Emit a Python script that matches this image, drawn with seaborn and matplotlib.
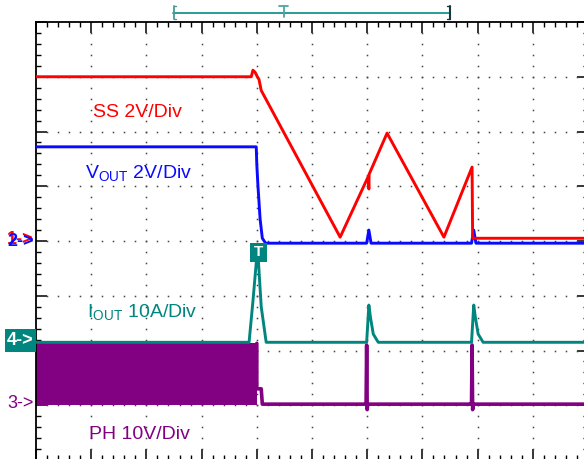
import numpy as np
import matplotlib
matplotlib.use("Agg")
import matplotlib.pyplot as plt
import matplotlib.transforms as mtransforms
from matplotlib.patches import Rectangle
from matplotlib.lines import Line2D
import seaborn as sns

# ---- data: time in divisions (0..10), amplitude in divisions (0..8) ----
ss_t = [0.0, 3.90, 3.93, 3.97, 4.01, 4.04, 4.08, 5.51, 6.02, 6.03, 6.035, 6.36, 7.39, 7.90, 7.91, 7.93, 10.0]
ss_v = [7.00, 7.00, 7.12, 7.08, 7.00, 6.95, 6.75, 4.07, 5.18, 4.95, 5.22, 5.97, 4.07, 5.35, 4.05, 4.05, 4.05]

vout_t = [0.0, 3.99, 4.00, 4.02, 4.06, 4.10, 4.16, 5.99, 6.03, 6.07, 7.89, 7.93, 7.97, 10.0]
vout_v = [5.72, 5.72, 5.40, 5.02, 4.40, 4.05, 3.96, 3.96, 4.20, 3.96, 3.96, 4.20, 3.96, 3.96]

iout_t = [0.0, 3.86, 3.93, 4.00, 4.03, 4.08, 4.17, 5.99, 6.03, 6.06, 6.11, 6.20, 7.89, 7.93, 7.96, 8.01, 8.10, 10.0]
iout_v = [2.15, 2.15, 2.90, 3.72, 3.62, 2.80, 2.15, 2.15, 2.83, 2.60, 2.30, 2.15, 2.15, 2.83, 2.60, 2.30, 2.15, 2.15]

ph_band_t = [0.0, 4.0]
ph_band_lo = [1.00, 1.00]
ph_band_hi = [2.13, 2.13]

ph_t = [4.00, 4.00, 4.08, 4.10, 5.97, 5.98, 5.99, 6.00, 6.01, 7.88, 7.89, 7.90, 7.91, 7.92, 10.0]
ph_v = [2.13, 1.30, 1.30, 1.02, 1.02, 1.05, 2.10, 0.92, 1.02, 1.02, 1.05, 2.10, 0.92, 1.02, 1.02]

labels = ["SS 2V/Div", r"V$_\mathregular{OUT}$ 2V/Div", r"I$_\mathregular{OUT}$ 10A/Div", "PH 10V/Div"]

RED = "#ff0000"
BLUE = "#0a0aff"
TEAL = "#00867e"
PURPLE = "#820082"

sns.set_style("white")
plt.rcParams["font.family"] = ["Liberation Sans", "DejaVu Sans"]
plt.rcParams["mathtext.fontset"] = "custom"
plt.rcParams["mathtext.rm"] = "Liberation Sans"

W, H = 584, 459
fig = plt.figure(figsize=(W / 100, H / 100), dpi=100)
fx = lambda px: px / W
fy = lambda py: (H - py) / H

# axes: left 36px, top 22px, 10 x 55.2 px, 8 x 54.75 px (partly beyond the image)
ax = fig.add_axes([fx(36), fy(460), 552 / W, 438 / H])
ax.set_xlim(0, 10)
ax.set_ylim(0, 8)

# graticule dots
gx = np.arange(0, 10.001, 0.2)
gy = np.arange(0, 8.001, 0.2)
for yk in range(1, 8):
    ax.plot(gx, np.full_like(gx, yk), ls="none", marker="s", ms=1.1, mew=0, color="#444444", zorder=1)
for xk in range(1, 10):
    ax.plot(np.full_like(gy, xk), gy, ls="none", marker="s", ms=1.1, mew=0, color="#444444", zorder=1)

ax.set_xticks(range(0, 11))
ax.set_xticks(gx, minor=True)
ax.set_yticks(range(0, 9))
ax.set_yticks(gy, minor=True)
ax.tick_params(which="major", direction="in", length=8, width=1.1, top=True, right=True,
               bottom=True, left=True, labelbottom=False, labelleft=False, color="black")
ax.tick_params(which="minor", direction="in", length=3.8, width=1.0, top=True, right=True,
               bottom=True, left=True, color="black")
for s in ax.spines.values():
    s.set_linewidth(1.3)
    s.set_color("black")

# traces
ax.fill_between(ph_band_t, ph_band_lo, ph_band_hi, color=PURPLE, lw=0, zorder=2)
sns.lineplot(x=ph_t, y=ph_v, sort=False, estimator=None, color=PURPLE, lw=2.6, ax=ax, zorder=3)
sns.lineplot(x=iout_t, y=iout_v, sort=False, estimator=None, color=TEAL, lw=2.1, ax=ax, zorder=4)
sns.lineplot(x=vout_t, y=vout_v, sort=False, estimator=None, color=BLUE, lw=2.1, ax=ax, zorder=5)
sns.lineplot(x=ss_t, y=ss_v, sort=False, estimator=None, color=RED, lw=2.1, ax=ax, zorder=6)

# channel labels
ax.text(1.03, 6.27, labels[0], color=RED, fontsize=14, va="baseline", ha="left")
ax.text(0.89, 5.13, labels[1], color=BLUE, fontsize=14, va="baseline", ha="left")
ax.text(0.92, 2.59, labels[2], color=TEAL, fontsize=14, va="baseline", ha="left")
ax.text(0.96, 0.38, labels[3], color=PURPLE, fontsize=14, va="baseline", ha="left")

# trigger marker box
ax.add_patch(Rectangle((0, 0), 1, 1, transform=mtransforms.Affine2D().scale(17 / W, 19 / H).translate(fx(250), fy(262)) + fig.transFigure,
                       fc=TEAL, ec="none", zorder=8, clip_on=False))
fig.text(fx(258.5), fy(252.5), "T", color="white", fontsize=11, fontweight="bold", ha="center", va="center", zorder=9)

# left ground markers (channel 1 marker sits almost hidden behind channel 2)
fig.text(fx(7), fy(239.5), "1->", color=RED, fontsize=13, fontweight="bold", ha="left", va="center")
fig.text(fx(7), fy(241.5), "2->", color=BLUE, fontsize=13, fontweight="bold", ha="left", va="center")
fig.patches.append(Rectangle((fx(5), fy(352)), 31 / W, 23 / H, transform=fig.transFigure, fc=TEAL, ec="none"))
fig.text(fx(20.5), fy(340.5), "4->", color="white", fontsize=13, fontweight="bold", ha="center", va="center")
fig.text(fx(7), fy(403), "3->", color=PURPLE, fontsize=13, ha="left", va="center")

# top record / trigger position bar
tf = fig.transFigure
def fline(xs, ys, color, lw):
    fig.add_artist(Line2D([fx(v) for v in xs], [fy(v) for v in ys], color=color, lw=lw, transform=tf))
fline([173, 450], [12.5, 12.5], "#1a948c", 1.3)
fline([173.5, 173.5], [6, 19], "#4a9a96", 1.3)
fline([173.5, 176], [6, 6], "#4a9a96", 1.0)
fline([173.5, 176], [19, 19], "#4a9a96", 1.0)
fline([449.5, 449.5], [6, 19], "#173840", 1.5)
fline([447, 449.5], [6, 6], "#173840", 1.0)
fline([447, 449.5], [19, 19], "#173840", 1.0)
fline([279, 288], [6, 6], "#4aa8a0", 1.3)
fline([283.5, 283.5], [6, 17], "#4aa8a0", 1.3)

fig.savefig("out.png", dpi=100)
